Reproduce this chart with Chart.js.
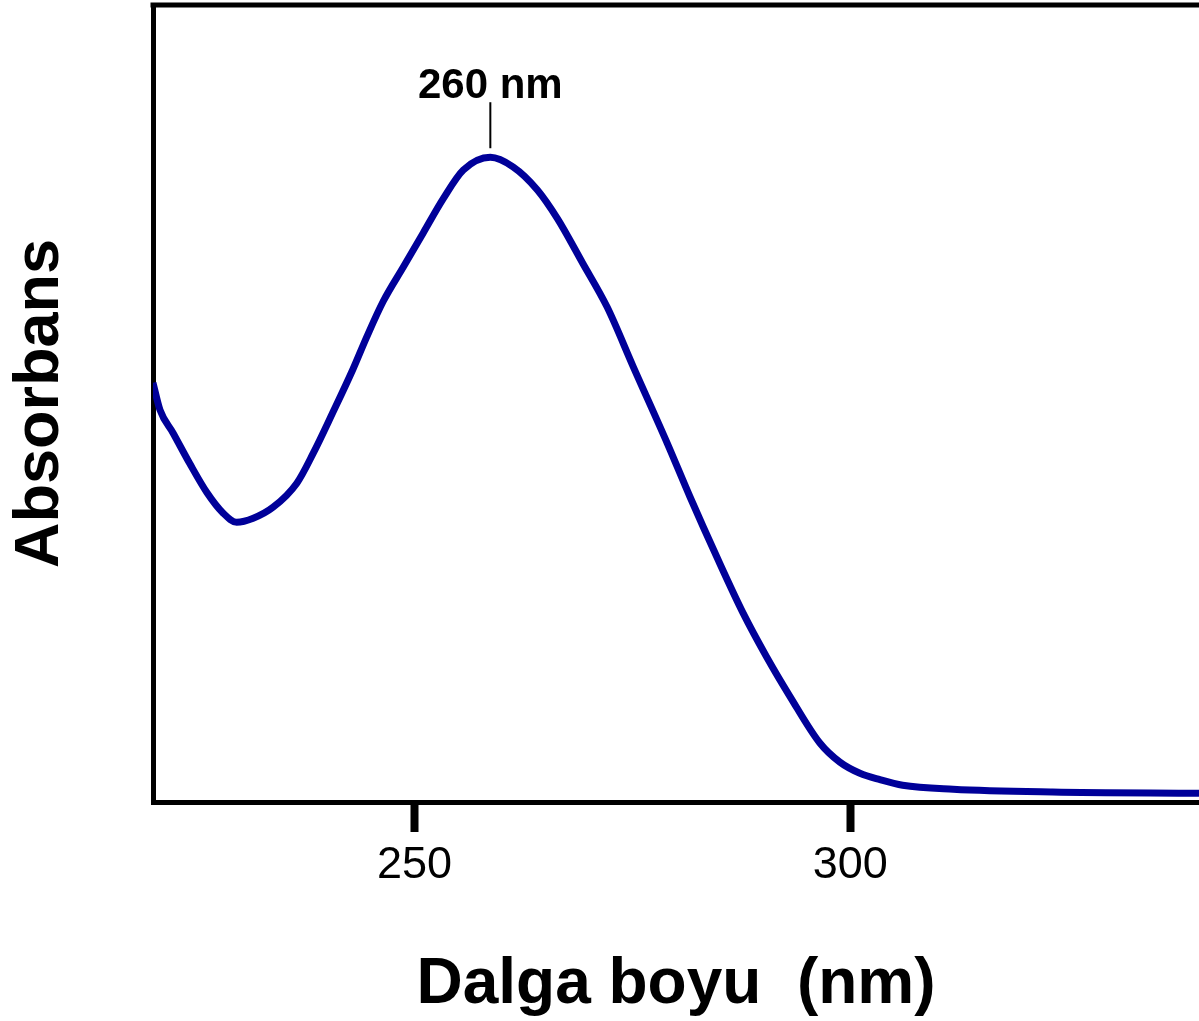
<!DOCTYPE html>
<html>
<head>
<meta charset="utf-8">
<title>Absorbans spektrumu</title>
<script src="https://cdn.jsdelivr.net/npm/chart.js@4/dist/chart.umd.min.js"></script>
<style>
  html, body { margin: 0; padding: 0; background: #fff; }
  #wrap { width: 1199px; height: 1021px; }
</style>
</head>
<body>
<div id="wrap"><canvas id="canvas"></canvas></div>
<script>
// spectrum (wavelength in nm, absorbance in arbitrary units 0..1)
const wavelengths = [220.0, 220.8, 222.3, 224.2, 226.2, 228.0, 229.6, 231.5, 233.8, 236.5,
  238.4, 240.6, 242.9, 244.5, 246.4, 248.7, 251.0, 253.3, 255.6, 258.7,
  261.3, 264.1, 266.4, 269.3, 272.1, 275.1, 279.0, 281.6, 284.7, 287.7,
  290.4, 293.1, 296.5, 298.8, 301.1, 303.4, 306.0, 311.8, 323.2, 340.0];
const absorbance = [0.526, 0.492, 0.463, 0.425, 0.388, 0.363, 0.351, 0.356, 0.370, 0.400,
  0.438, 0.488, 0.542, 0.583, 0.628, 0.671, 0.714, 0.757, 0.793, 0.809,
  0.797, 0.768, 0.732, 0.676, 0.621, 0.546, 0.450, 0.383, 0.307, 0.237,
  0.182, 0.132, 0.074, 0.050, 0.036, 0.028, 0.021, 0.016, 0.0125, 0.011];
const xTicks = [250, 300];
const peakWavelength = 258.7;
const peakAbsorbance = 0.809;
const peakLabel = "260 nm";

const FONT = '"Liberation Sans", Arial, sans-serif';

// top frame line + the little marker over the peak
const framePlugin = {
  id: 'frame',
  afterDraw: (chart) => {
    const {ctx, chartArea, scales} = chart;
    ctx.save();
    ctx.strokeStyle = '#000';
    ctx.lineWidth = 5;
    ctx.beginPath();
    ctx.moveTo(chartArea.left - 2.5, chartArea.top);
    ctx.lineTo(chartArea.right, chartArea.top);
    ctx.stroke();

    const px = scales.x.getPixelForValue(peakWavelength);
    const py = scales.y.getPixelForValue(peakAbsorbance);
    ctx.lineWidth = 2;
    ctx.beginPath();
    ctx.moveTo(px, py - 9);
    ctx.lineTo(px, py - 55);
    ctx.stroke();
    ctx.fillStyle = '#000';
    ctx.font = 'bold 42px ' + FONT;
    ctx.textAlign = 'center';
    ctx.textBaseline = 'alphabetic';
    ctx.fillText(peakLabel, px, py - 59);
    ctx.restore();
  }
};

const chart = new Chart(document.getElementById('canvas').getContext('2d'), {
  type: 'line',
  data: {
    datasets: [{
      data: wavelengths.map((w, i) => ({x: w, y: absorbance[i]})),
      borderColor: '#000099',
      borderWidth: 7,
      pointRadius: 0,
      cubicInterpolationMode: 'monotone',
      fill: false
    }]
  },
  options: {
    responsive: true,
    maintainAspectRatio: false,
    animation: false,
    layout: { padding: { top: 5, right: 0, bottom: 0, left: 0 } },
    plugins: {
      legend: { display: false },
      tooltip: { enabled: false }
    },
    scales: {
      x: {
        type: 'linear',
        min: 220,
        max: 340,
        afterBuildTicks: (scale) => {
          scale.ticks = xTicks.map((v) => ({value: v}));
        },
        grid: {
          display: true,
          drawOnChartArea: false,
          drawTicks: true,
          tickLength: 30,
          tickWidth: 8,
          tickColor: '#000'
        },
        border: { display: true, width: 5, color: '#000' },
        ticks: {
          color: '#000',
          padding: 7,
          maxRotation: 0,
          font: { family: FONT, size: 45 }
        },
        title: {
          display: true,
          text: 'Dalga boyu  (nm)',
          color: '#000',
          font: { family: FONT, size: 64, weight: 'bold', lineHeight: 1 },
          padding: { top: 53, bottom: 4 }
        }
      },
      y: {
        min: 0,
        max: 1,
        grid: { display: false },
        border: { display: true, width: 5, color: '#000' },
        ticks: { display: false },
        title: {
          display: true,
          text: 'Absorbans',
          color: '#000',
          font: { family: FONT, size: 63, weight: 'bold', lineHeight: 1 },
          padding: { top: 9, bottom: 73 }
        }
      }
    }
  },
  plugins: [framePlugin]
});
</script>
</body>
</html>
